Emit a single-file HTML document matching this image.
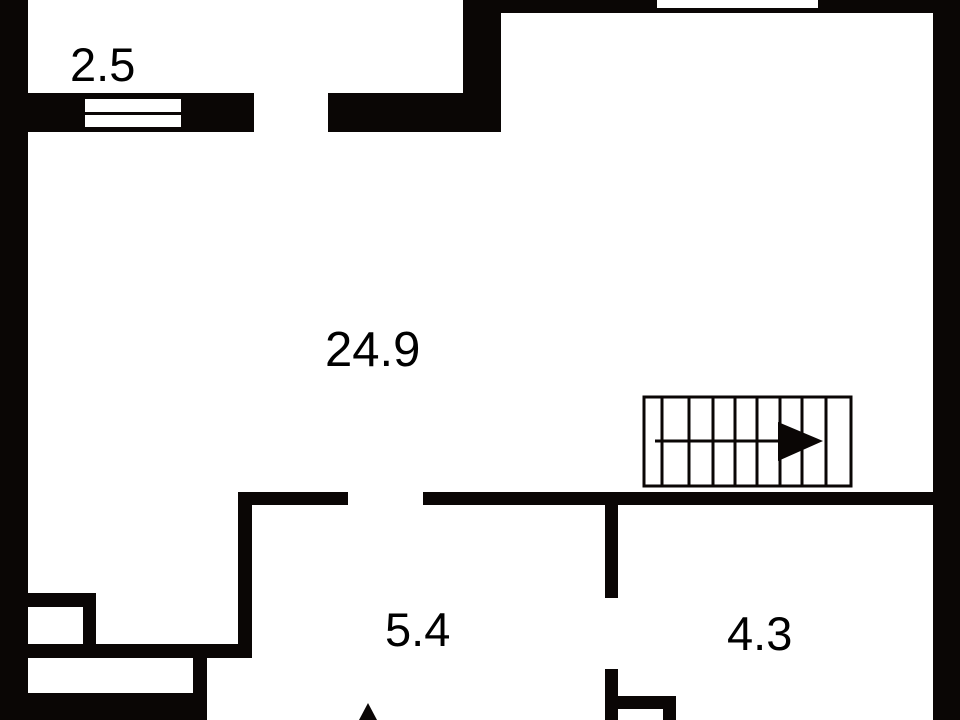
<!DOCTYPE html>
<html><head><meta charset="utf-8"><style>
html,body{margin:0;padding:0;background:#fff;}
svg{display:block;}
text{font-family:"Liberation Sans",sans-serif;fill:#000;}
</style></head><body>
<svg width="960" height="720" viewBox="0 0 960 720" xmlns="http://www.w3.org/2000/svg">
<rect width="960" height="720" fill="#fff"/>
<g fill="#0a0605">
<!-- outer walls -->
<rect x="0" y="0" width="28" height="720"/>
<rect x="933" y="0" width="27" height="720"/>
<rect x="463" y="0" width="497" height="13"/>
<rect x="463" y="0" width="38" height="132"/>
<!-- upper horizontal wall -->
<rect x="0" y="93" width="254" height="39"/>
<rect x="328" y="93" width="173" height="39"/>
<!-- middle wall -->
<rect x="238" y="492" width="110" height="13"/>
<rect x="423" y="492" width="510" height="13"/>
<rect x="238" y="492" width="14" height="166"/>
<rect x="28" y="644" width="224" height="14"/>
<!-- small box -->
<rect x="28" y="593" width="68" height="14"/>
<rect x="83" y="593" width="13" height="51"/>
<!-- bottom left -->
<rect x="193" y="658" width="14" height="62"/>
<rect x="0" y="693" width="207" height="27"/>
<!-- right partition -->
<rect x="605" y="505" width="13" height="93"/>
<rect x="605" y="669" width="13" height="51"/>
<rect x="605" y="696" width="71" height="13"/>
<rect x="663" y="696" width="13" height="24"/>
<!-- entry arrow -->
<polygon points="368,703 359,720 377,720"/>
</g>
<!-- windows -->
<rect x="657" y="0" width="161" height="8" fill="#fff"/>
<rect x="85" y="99" width="96" height="13" fill="#fff"/>
<rect x="85" y="115" width="96" height="12" fill="#fff"/>
<!-- stairs -->
<g stroke="#0a0605" stroke-width="3" fill="none">
<rect x="644" y="397" width="207" height="89"/>
<line x1="662" y1="397" x2="662" y2="486"/>
<line x1="689" y1="397" x2="689" y2="486"/>
<line x1="713" y1="397" x2="713" y2="486"/>
<line x1="735" y1="397" x2="735" y2="486"/>
<line x1="757" y1="397" x2="757" y2="486"/>
<line x1="780" y1="397" x2="780" y2="486"/>
<line x1="802" y1="397" x2="802" y2="486"/>
<line x1="826" y1="397" x2="826" y2="486"/>
<line x1="655" y1="441" x2="780" y2="441"/>
</g>
<polygon points="778,422 823,441 778,461" fill="#0a0605"/>
<!-- labels -->
<text x="70" y="81" font-size="47">2.5</text>
<text x="325" y="366" font-size="49">24.9</text>
<text x="385" y="646" font-size="47">5.4</text>
<text x="727" y="650" font-size="47">4.3</text>
</svg>
</body></html>
